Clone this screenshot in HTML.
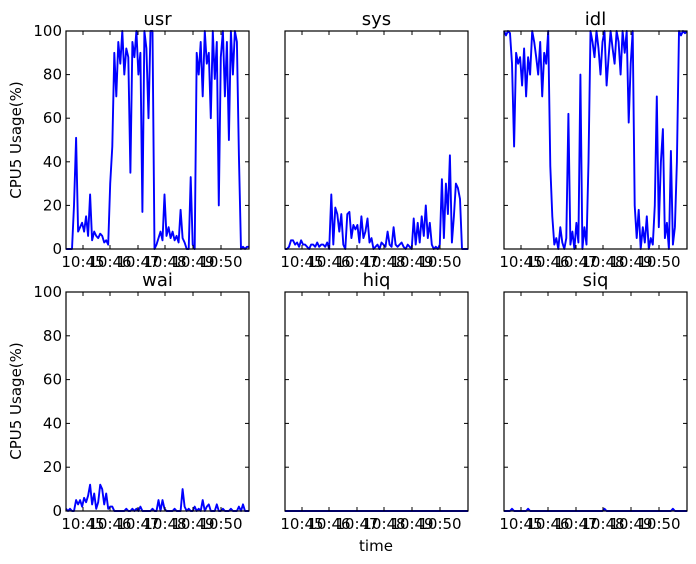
<!DOCTYPE html>
<html><head><meta charset="utf-8"><style>
body{margin:0;background:#fff}
svg{display:block;font-family:"DejaVu Sans","Liberation Sans",sans-serif}
</style></head><body>
<svg id="chart" width="696" height="564" viewBox="0 0 696 564" xmlns="http://www.w3.org/2000/svg">
<rect width="696" height="564" fill="#fff"/>
<text transform="translate(21,140) rotate(-90)" text-anchor="middle" font-size="15">CPU5 Usage(%)</text>
<text transform="translate(21,401) rotate(-90)" text-anchor="middle" font-size="15">CPU5 Usage(%)</text>
<text x="376" y="551" text-anchor="middle" font-size="15">time</text>
</svg>
<script>
const titles = ["usr","sys","idl","wai","hiq","siq"];
const xTickLabels = ["10:45","10:46","10:47","10:48","10:49","10:50"];
const yTickValues = [0,20,40,60,80,100];
const usr = [0,0,0,0,20,51,8,10,12,8,15,6,25,4,8,6,5,7,6,3,4,2,30,47,90,70,95,85,100,80,92,88,35,95,88,100,80,90,17,100,92,60,100,100,0,2,5,8,4,25,6,10,5,8,4,6,3,18,5,3,0,0,33,2,0,90,80,95,70,100,85,90,60,100,78,95,20,88,100,70,95,50,100,80,100,95,43,0,1,0,1,1];
const sys = [0,0,1,4,4,2,3,1,4,2,2,1,0,2,2,1,3,1,2,2,1,3,0,25,2,19,16,8,16,2,0,16,17,5,11,9,11,3,15,5,8,14,3,5,0,1,2,0,3,2,1,8,2,1,10,2,1,2,3,1,0,2,1,0,14,2,12,3,15,6,20,5,12,2,0,1,0,2,32,5,30,16,43,3,15,30,28,23,0,0,0,0];
const idl = [100,98,100,99,85,47,90,85,88,75,92,70,88,80,100,95,88,80,95,70,90,85,100,38,15,2,5,0,10,3,0,5,62,2,8,0,12,3,80,0,10,2,40,100,95,88,100,92,80,95,100,75,88,100,92,85,100,95,80,100,90,100,58,85,100,20,5,18,0,10,3,15,0,5,2,20,70,10,40,55,5,12,0,45,2,10,40,100,98,100,99,100];
const wai = [1,0,1,0,0,5,3,5,2,6,4,7,12,3,8,1,4,12,10,3,8,1,2,2,0,0,0,0,0,0,1,0,0,1,0,1,0,2,0,0,0,0,0,1,0,0,5,0,5,1,0,0,0,0,1,0,0,0,10,2,0,1,0,0,2,0,1,0,5,0,2,3,0,0,0,3,0,0,1,0,0,0,1,0,0,0,2,0,3,0,0,0];
const hiq = new Array(92).fill(0);
const siq = [0,0,0,0,1,0,0,0,0,0,0,0,1,0,0,0,0,0,0,0,0,0,0,0,0,0,0,0,0,0,0,0,0,0,0,0,0,0,0,0,0,0,0,0,0,0,0,0,0,0,1,0,0,0,0,0,0,0,0,0,0,0,0,0,0,0,0,0,0,0,0,0,0,0,0,0,0,0,0,0,0,0,0,0,1,0,0,0,0,0,0,0];
const series = [usr,sys,idl,wai,hiq,siq];
const NS="http://www.w3.org/2000/svg";
const svg=document.getElementById('chart');
const lefts=[66,285,504], tops=[31,292], W=183, Hs=[218,219];
const tickX=[17,44,72,99,127,155];
function mk(t,a){const e=document.createElementNS(NS,t);for(const k in a)e.setAttribute(k,a[k]);svg.appendChild(e);return e;}
for(let p=0;p<6;p++){
  const L=lefts[p%3], T=tops[Math.floor(p/3)], H=Hs[Math.floor(p/3)];
  const data=series[p];
  const xs=i=>L+i/(data.length-1)*W;
  const ys=v=>T+H-v/100*H;
  const title=mk('text',{x:L+W/2,y:T-6,'text-anchor':'middle','font-size':'18'});
  title.textContent=titles[p];
  
  
  let d='';
  data.forEach((v,i)=>{d+=(i?'L':'M')+xs(i).toFixed(1)+','+ys(v).toFixed(1);});
  const line=mk('path',{d:d,fill:'none',stroke:'#0000ff','stroke-width':'1.9','stroke-linejoin':'round'});
  
  
  yTickValues.forEach(v=>{
    const y=ys(v);
    const t1=mk('line',{x1:L,x2:L+4,y1:y,y2:y,stroke:'#000'});
    
    
    const t2=mk('line',{x1:L+W-4,x2:L+W,y1:y,y2:y,stroke:'#000'});
    
    
    if(p%3===0){
      const lb=mk('text',{x:L-4,y:y+5,'text-anchor':'end','font-size':'15'});
      lb.textContent=v;
      
      
    }
  });
  xTickLabels.forEach((s,i)=>{
    const x=L+tickX[i];
    const t1=mk('line',{x1:x,x2:x,y1:T+H,y2:T+H-4,stroke:'#000'});
    
    
    const t2=mk('line',{x1:x,x2:x,y1:T,y2:T+4,stroke:'#000'});
    
    
    const lb=mk('text',{x:x,y:T+H+18,'text-anchor':'middle','font-size':'15'});
    lb.textContent=s;
    
    
  });
  const fr=mk('rect',{x:L,y:T,width:W,height:H,fill:'none',stroke:'#000','stroke-width':'1.2'});
  
  
}
</script>
</body></html>
